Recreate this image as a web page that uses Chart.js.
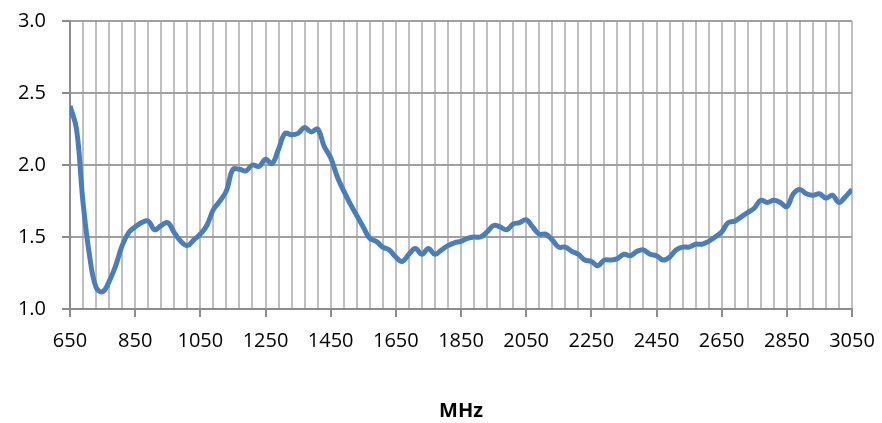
<!DOCTYPE html>
<html>
<head>
<meta charset="utf-8">
<script src="https://cdn.jsdelivr.net/npm/chart.js@4/dist/chart.umd.min.js"></script>
<style>
  html, body { margin: 0; padding: 0; background: #ffffff; }
  #wrap { width: 882px; height: 423px; position: relative; }
</style>
</head>
<body>
<div id="wrap"><canvas id="c" width="882" height="423"></canvas></div>
<script>
// Frequencies (MHz)
const freqs = [
  650, 670, 690, 710, 730, 750, 770, 790, 810, 830,
  850, 870, 890, 910, 930, 950, 970, 990, 1010, 1030,
  1050, 1070, 1090, 1110, 1130, 1150, 1170, 1190, 1210, 1230,
  1250, 1270, 1290, 1310, 1330, 1350, 1370, 1390, 1410, 1430,
  1450, 1470, 1490, 1510, 1530, 1550, 1570, 1590, 1610, 1630,
  1650, 1670, 1690, 1710, 1730, 1750, 1770, 1790, 1810, 1830,
  1850, 1870, 1890, 1910, 1930, 1950, 1970, 1990, 2010, 2030,
  2050, 2070, 2090, 2110, 2130, 2150, 2170, 2190, 2210, 2230,
  2250, 2270, 2290, 2310, 2330, 2350, 2370, 2390, 2410, 2430,
  2450, 2470, 2490, 2510, 2530, 2550, 2570, 2590, 2610, 2630,
  2650, 2670, 2690, 2710, 2730, 2750, 2770, 2790, 2810, 2830,
  2850, 2870, 2890, 2910, 2930, 2950, 2970, 2990, 3010, 3030,
  3050
];
// Measured values
const values = [
  2.41, 2.25, 1.74, 1.37, 1.15, 1.12, 1.19, 1.30, 1.44, 1.53,
  1.57, 1.60, 1.61, 1.55, 1.58, 1.60, 1.53, 1.47, 1.44, 1.48,
  1.52, 1.58, 1.69, 1.75, 1.82, 1.97, 1.97, 1.96, 2.00, 1.99,
  2.04, 2.01, 2.11, 2.22, 2.21, 2.22, 2.26, 2.23, 2.25, 2.13,
  2.05, 1.92, 1.82, 1.73, 1.65, 1.57, 1.49, 1.47, 1.43, 1.41,
  1.36, 1.33, 1.38, 1.42, 1.38, 1.42, 1.38, 1.41, 1.44, 1.46,
  1.47, 1.49, 1.50, 1.50, 1.535, 1.58, 1.57, 1.55, 1.59, 1.60,
  1.62, 1.57, 1.52, 1.52, 1.48, 1.43, 1.43, 1.40, 1.38, 1.34,
  1.33, 1.30, 1.34, 1.34, 1.35, 1.38, 1.37, 1.40, 1.41, 1.38,
  1.37, 1.34, 1.36, 1.41, 1.43, 1.43, 1.45, 1.45, 1.47, 1.50,
  1.535, 1.60, 1.61, 1.64, 1.67, 1.70, 1.755, 1.74, 1.755, 1.74,
  1.71, 1.80, 1.83, 1.80, 1.79, 1.80, 1.77, 1.79, 1.74, 1.78,
  1.83
];
// Labelled x ticks
const xTickLabels = [650, 850, 1050, 1250, 1450, 1650, 1850, 2050, 2250, 2450, 2650, 2850, 3050];
const yTickLabels = [1.0, 1.5, 2.0, 2.5, 3.0];
const xTitle = 'MHz';

const X_MIN = 650, X_MAX = 3050, X_GRID_STEP = 40;
const FONT = '"Open Sans", "Liberation Sans", sans-serif';

const points = freqs.map((f, i) => ({ x: f, y: values[i] }));

new Chart(document.getElementById('c'), {
  type: 'line',
  data: {
    datasets: [{
      data: points,
      borderColor: '#4a7ebb',
      borderWidth: 5,
      pointRadius: 0,
      tension: 0.4,
      fill: false
    }]
  },
  options: {
    responsive: false,
    animation: false,
    layout: { padding: { top: 21, right: 30, left: 0, bottom: 0 } },
    plugins: { legend: { display: false }, tooltip: { enabled: false } },
    scales: {
      x: {
        type: 'linear',
        min: X_MIN,
        max: X_MAX,
        afterBuildTicks: (scale) => {
          const t = [];
          for (let v = X_MIN; v <= X_MAX; v += X_GRID_STEP) t.push({ value: v });
          scale.ticks = t;
        },
        afterFit: (scale) => {
          scale.height = 114;
          scale.paddingLeft = 0;
          scale.paddingRight = 0;
        },
        ticks: {
          autoSkip: false,
          maxRotation: 0,
          minRotation: 0,
          padding: 12,
          color: '#000000',
          font: { family: FONT, size: 20 },
          callback: (v) => xTickLabels.includes(v) ? String(v) : ''
        },
        grid: {
          color: '#bfbfbf',
          lineWidth: 2,
          tickLength: 8,
          tickColor: (ctx) => (ctx.tick && xTickLabels.includes(ctx.tick.value)) ? '#8c8c8c' : 'rgba(0,0,0,0)',
          tickWidth: 2
        },
        border: { color: '#8c8c8c', width: 2 },
        title: {
          display: true,
          text: xTitle,
          color: '#000000',
          font: { family: FONT, size: 20, weight: 'bold' },
          padding: { top: 42, bottom: 0 }
        }
      },
      y: {
        min: 1,
        max: 3,
        afterBuildTicks: (scale) => {
          scale.ticks = yTickLabels.map(v => ({ value: v }));
        },
        afterFit: (scale) => {
          scale.width = 70;
          scale.paddingTop = 0;
          scale.paddingBottom = 0;
        },
        ticks: {
          padding: 16,
          color: '#000000',
          font: { family: FONT, size: 20 },
          callback: (v) => Number(v).toFixed(1)
        },
        grid: {
          color: '#a0a0a0',
          lineWidth: 2,
          tickLength: 8,
          tickColor: '#8c8c8c',
          tickWidth: 2
        },
        border: { color: '#8c8c8c', width: 2 }
      }
    }
  }
});
</script>
</body>
</html>
